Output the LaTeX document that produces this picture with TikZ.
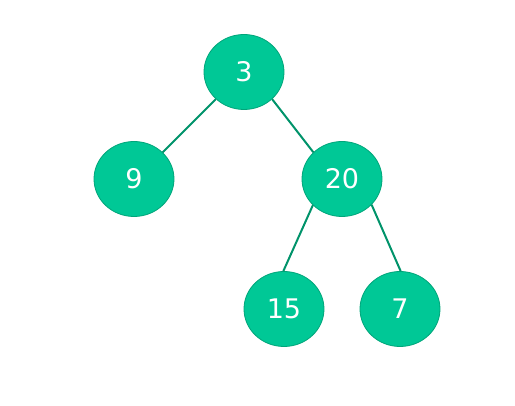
\documentclass[tikz,border=0pt]{standalone}
\usepackage{fontspec}
\setmainfont{DejaVu Sans}
\usetikzlibrary{shapes.geometric}
\definecolor{nodefill}{HTML}{00C896}
\definecolor{nodeline}{HTML}{00A57A}
\definecolor{edgecol}{HTML}{00936A}
\begin{document}
\begin{tikzpicture}[x=1pt,y=1pt,
  tnode/.style={ellipse,draw=nodeline,line width=0.8pt,fill=nodefill,minimum width=80pt,minimum height=75pt,inner sep=0pt,text=white,font=\fontsize{27}{30}\selectfont},
  tedge/.style={draw=edgecol,line width=2pt}]
\useasboundingbox (0,0) rectangle (515,406);
\node[tnode] (n3) at (244,334) {3};
\node[tnode] (n9) at (134,227) {9};
\node[tnode] (n20) at (342,227) {20};
\node[tnode] (n15) at (284,97) {15};
\node[tnode] (n7) at (400,97) {7};
\draw[tedge] (n3.-136) -- (n9.43);
\draw[tedge] (n3.-44) -- (n20.137);
\draw[tedge] (n20.-138) -- (n15.91);
\draw[tedge] (n20.-41) -- (n7.89);
\end{tikzpicture}
\end{document}
